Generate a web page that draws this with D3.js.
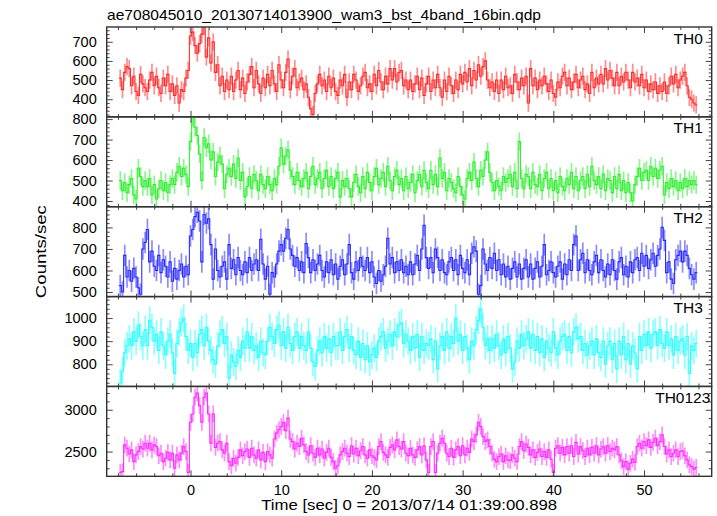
<!DOCTYPE html>
<html>
<head>
<meta charset="utf-8">
<script src="https://cdn.jsdelivr.net/npm/d3@7"></script>
<style>
html,body{margin:0;padding:0;background:#fff;}
svg{display:block;font-family:"Liberation Sans",Arial,sans-serif;}
</style>
</head>
<body>
<svg id="chart" width="717" height="516"></svg>
<script>
// ---------- data ----------
const titleText = "ae708045010_20130714013900_wam3_bst_4band_16bin.qdp";
const xLabelText = "Time [sec] 0 = 2013/07/14 01:39:00.898";
const yLabelText = "Counts/sec";
const panelNames = ["TH0", "TH1", "TH2", "TH3", "TH0123"];
const binStart = -7.75;   // centre of first 0.25 s bin
const binWidth = 0.25;

const th0 = [
510,450,540,570, 560,470,520,440, 420,530,480,460, 440,500,540,470,
520,460,430,510, 470,530,440,480, 420,470,380,450, 440,510,550,730,
750,680,640,690, 740,780,620,720, 590,700,540,580, 470,520,440,500,
450,520,440,500, 550,450,510,430, 490,530,570,460, 550,480,430,510,
460,530,470,550, 480,440,580,500, 460,540,610,450, 520,560,460,490,
510,450,480,410, 350,320,430,480, 530,470,500,440, 520,460,510,440,
420,500,470,530, 410,490,450,530, 500,440,470,520, 540,460,480,440,
530,470,550,490, 450,520,480,560, 500,560,490,540, 550,470,500,450,
500,440,480,520, 450,510,420,480, 520,440,500,460, 530,460,410,500,
440,520,470,430, 500,450,530,480, 540,490,560,470, 550,500,580,520,
570,600,500,460, 490,440,500,430, 500,450,520,460, 470,430,530,490,
450,510,470,520, 380,560,470,510, 450,500,470,520, 480,440,500,430,
410,490,460,520, 540,470,510,450, 490,530,460,500, 520,450,480,430,
540,460,510,480, 530,480,560,500, 550,510,470,540, 470,520,490,540,
500,460,540,490, 510,470,530,460, 500,440,480,450, 490,430,470,440,
490,430,470,520, 480,530,460,500, 520,540,470,410, 400,380,370
];
const th1 = [
500,450,490,440, 480,510,430,410, 560,520,470,500, 470,510,430,480,
410,460,500,450, 490,440,480,510, 480,540,570,520, 560,530,470,690,
810,760,720,630, 500,710,660,680, 600,640,520,590, 620,580,460,530,
560,520,580,510, 610,500,540,420, 470,520,460,530, 500,450,530,480,
460,520,480,450, 510,480,570,660, 580,620,650,550, 520,480,540,500,
470,510,540,460, 520,570,480,510, 540,460,510,550, 470,520,460,510,
540,420,500,470, 510,460,420,490, 530,470,440,520, 460,540,490,450,
520,560,480,510, 540,470,570,500, 450,520,550,480, 510,450,520,460,
490,530,440,500, 530,470,550,490, 460,550,480,530, 470,610,510,540,
450,510,490,460, 440,520,470,430, 410,510,540,500, 590,510,470,550,
520,600,640,540, 490,450,500,470, 450,520,490,510, 530,470,540,460,
690,510,460,530, 520,460,540,480, 470,530,450,510, 540,460,510,450,
500,440,520,470, 450,510,480,540, 460,520,450,500, 520,460,530,470,
570,500,480,520, 460,530,450,510, 500,440,520,460, 530,450,500,440,
490,440,400,480, 520,560,500,540, 550,500,570,520, 560,510,550,570,
430,490,460,510, 470,500,450,490, 460,510,470,500, 480,500,480
];
const th2 = [
530,500,670,570, 600,550,610,570, 520,490,700,730, 790,640,690,620,
600,670,590,650, 620,570,640,550, 610,560,600,630, 570,620,580,760,
790,850,870,830, 640,860,820,840, 720,560,700,600, 570,620,640,560,
720,610,650,580, 660,600,580,640, 590,660,600,630, 650,600,745,630,
560,620,490,590, 570,630,690,720, 690,750,790,700, 670,620,660,600,
640,590,725,660, 590,650,600,630, 670,600,570,640, 590,650,580,630,
560,620,650,580, 630,720,590,560, 640,600,660,620, 600,660,590,640,
570,540,600,550, 580,620,750,630, 660,590,640,600, 650,590,620,580,
640,580,630,670, 600,700,810,660, 610,660,590,700, 660,600,650,590,
580,640,660,600, 650,580,670,610, 590,650,580,680, 710,690,490,530,
700,630,600,660, 610,680,600,650, 580,630,570,620, 560,610,640,570,
630,560,610,650, 570,630,560,610, 640,570,620,720, 580,600,640,590,
570,620,640,560, 630,580,650,600, 720,760,600,650, 680,590,650,600,
580,640,670,590, 650,600,570,630, 580,650,600,560, 640,660,580,620,
570,640,590,650, 660,600,680,620, 670,610,650,680, 620,670,700,800,
740,590,640,560, 540,650,670,690, 640,690,670,610, 580,560,590
];
const th3 = [
720,770,850,880, 910,880,940,900, 970,920,880,950, 880,990,960,900,
930,860,940,880, 840,900,930,850, 760,890,940,980, 1000,920,860,890,
830,890,850,930, 950,880,960,900, 860,820,800,880, 930,950,890,920,
740,840,810,790, 860,830,900,870, 940,870,920,860, 880,830,900,850,
840,900,960,920, 890,950,970,880, 940,870,960,890, 860,920,940,870,
920,880,860,940, 870,810,790,860, 900,850,920,870, 910,850,920,880,
880,940,860,920, 950,870,920,860, 840,900,830,890, 820,880,810,840,
870,830,900,920, 940,870,900,930, 880,940,920,970, 980,890,930,900,
860,920,870,930, 830,920,860,890, 880,910,820,900, 780,880,920,860,
940,870,920,890, 1000,900,930,860, 920,870,820,900, 880,950,990,1040,
960,880,910,860, 910,870,930,880, 840,910,850,920, 870,780,810,900,
870,930,880,910, 940,870,930,860, 920,850,910,830, 900,870,850,940,
870,840,900,920, 930,860,920,850, 940,960,910,920, 860,890,840,880,
900,840,910,850, 830,900,800,880, 900,820,890,780, 900,840,920,820,
890,800,880,850, 780,920,860,930, 880,940,870,930, 940,880,950,890,
870,940,880,910, 840,920,860,900, 910,840,920,760, 880,860,890
];
const th0123 = [
2250,2260,2580,2540, 2470,2520,2380,2460, 2500,2560,2530,2600, 2540,2600,2520,2580,
2560,2450,2480,2380, 2420,2490,2400,2480, 2300,2460,2400,2480, 2560,2500,2250,2850,
2950,3150,3200,3050, 2850,3150,3200,2950, 2600,2950,2550,2600, 2620,2520,2480,2600,
2380,2330,2420,2360, 2430,2520,2450,2500, 2530,2430,2540,2460, 2420,2520,2400,2490,
2380,2500,2460,2420, 2650,2720,2760,2800, 2850,2750,2900,2650, 2620,2530,2600,2560,
2660,2580,2500,2460, 2570,2480,2430,2540, 2460,2530,2420,2490, 2540,2430,2380,2300,
2330,2460,2500,2540, 2480,2440,2570,2470, 2540,2450,2510,2560, 2460,2420,2520,2450,
2430,2400,2560,2620, 2490,2460,2430,2550, 2580,2520,2640,2560, 2530,2620,2480,2450,
2540,2460,2430,2520, 2560,2460,2570,2400, 2250,2560,2620,2250, 2480,2600,2660,2600,
2480,2440,2540,2430, 2520,2560,2450,2570, 2460,2540,2490,2650, 2620,2700,2850,2800,
2680,2620,2640,2560, 2480,2410,2380,2440, 2470,2380,2450,2400, 2390,2460,2420,2380,
2560,2620,2510,2590, 2550,2460,2520,2430, 2490,2530,2440,2500, 2430,2520,2410,2250,
2540,2570,2480,2550, 2460,2560,2480,2570, 2440,2610,2470,2560, 2510,2440,2540,2460,
2550,2480,2570,2460, 2530,2560,2480,2570, 2500,2540,2520,2560, 2460,2390,2320,2380,
2290,2360,2410,2370, 2560,2600,2540,2620, 2570,2640,2550,2610, 2660,2570,2620,2700,
2560,2470,2520,2440, 2480,2520,2440,2500, 2510,2450,2400,2340, 2320,2290,2310
];
const seriesValues = [th0, th1, th2, th3, th0123];
const seriesErrors = [45, 45, 50, 60, 100];          // typical 1-sigma half length
const seriesColors = ["#ff1a1a", "#1aee1a", "#1a1aff", "#1affff", "#ff1aff"];
const yDomains = [[308, 777], [372, 811], [479, 896], [704, 1093], [2204, 3279]];
const yTicks = [[400,500,600,700], [400,500,600,700,800], [500,600,700,800], [800,900,1000], [2500,3000]];
const yMinorStep = [20, 20, 20, 20, 100];
const xDomain = [-9.24, 57.46];
const xTicks = [0, 10, 20, 30, 40, 50];
const xMinorStep = 2;

// ---------- layout ----------
const plotL = 106.7, plotR = 711.7, plotT = 27, plotB = 476.3;
const nP = panelNames.length;
const pH = (plotB - plotT) / nP;

const svg = d3.select("#chart");
const x = d3.scaleLinear().domain(xDomain).range([plotL, plotR]);

const xMinor = d3.range(Math.ceil(xDomain[0] / xMinorStep) * xMinorStep, xDomain[1], xMinorStep)
  .filter(v => !xTicks.includes(v));

function styleAxis(g) {
  g.select(".domain").remove();
  g.selectAll(".tick line").attr("stroke", "#444").attr("stroke-width", 1);
  g.selectAll("text").attr("fill", "#000").attr("font-family", "Liberation Sans, Arial, sans-serif");
}

panelNames.forEach((name, i) => {
  const y0 = plotT + i * pH, y1 = y0 + pH;
  const y = d3.scaleLinear().domain(yDomains[i]).range([y1, y0]);
  const vals = seriesValues[i];
  const err = seriesErrors[i];
  const col = seriesColors[i];
  const times = vals.map((v, k) => binStart + k * binWidth);

  const clipId = "clip" + i;
  svg.append("clipPath").attr("id", clipId)
    .append("rect").attr("x", plotL).attr("y", y0).attr("width", plotR - plotL).attr("height", pH);

  const g = svg.append("g").attr("clip-path", `url(#${clipId})`);
  // error bars
  g.selectAll("line.err").data(vals).join("line")
    .attr("class", "err")
    .attr("x1", (d, k) => x(times[k])).attr("x2", (d, k) => x(times[k]))
    .attr("y1", d => y(d - err)).attr("y2", d => y(d + err))
    .attr("stroke", col).attr("stroke-width", 1.7).attr("stroke-opacity", 0.5);
  // step line
  const stepPts = [];
  vals.forEach((v, k) => {
    stepPts.push([times[k] - binWidth / 2, v]);
    stepPts.push([times[k] + binWidth / 2, v]);
  });
  g.append("path")
    .attr("d", d3.line().x(d => x(d[0])).y(d => y(d[1]))(stepPts))
    .attr("fill", "none").attr("stroke", col).attr("stroke-width", 1.1).attr("stroke-opacity", 0.9);

  const yMin = d3.range(Math.ceil(yDomains[i][0] / yMinorStep[i]) * yMinorStep[i], yDomains[i][1], yMinorStep[i])
    .filter(v => !yTicks[i].includes(v));
  // left axis
  svg.append("g").attr("transform", `translate(${plotL},0)`)
    .call(d3.axisLeft(y).tickValues(yTicks[i]).tickFormat(d3.format("d"))
      .tickSizeInner(-6).tickSizeOuter(0).tickPadding(10))
    .call(styleAxis).call(g2 => g2.selectAll("text").attr("font-size", 14.5));
  svg.append("g").attr("transform", `translate(${plotL},0)`)
    .call(d3.axisLeft(y).tickValues(yMin).tickSizeInner(-3).tickSizeOuter(0).tickFormat(""))
    .call(styleAxis);
  // right axis
  svg.append("g").attr("transform", `translate(${plotR},0)`)
    .call(d3.axisRight(y).tickValues(yTicks[i]).tickSizeInner(-6).tickSizeOuter(0).tickFormat(""))
    .call(styleAxis);
  svg.append("g").attr("transform", `translate(${plotR},0)`)
    .call(d3.axisRight(y).tickValues(yMin).tickSizeInner(-3).tickSizeOuter(0).tickFormat(""))
    .call(styleAxis);
  // top x axis
  svg.append("g").attr("transform", `translate(0,${y0})`)
    .call(d3.axisTop(x).tickValues(xTicks).tickSizeInner(-6).tickSizeOuter(0).tickFormat(""))
    .call(styleAxis);
  svg.append("g").attr("transform", `translate(0,${y0})`)
    .call(d3.axisTop(x).tickValues(xMinor).tickSizeInner(-3).tickSizeOuter(0).tickFormat(""))
    .call(styleAxis);
  // bottom x axis
  const bx = svg.append("g").attr("transform", `translate(0,${y1})`)
    .call(d3.axisBottom(x).tickValues(xTicks).tickSizeInner(-6).tickSizeOuter(0).tickPadding(8)
      .tickFormat(i === nP - 1 ? d3.format("d") : ""))
    .call(styleAxis);
  bx.selectAll("text").attr("font-size", 14.5);
  svg.append("g").attr("transform", `translate(0,${y1})`)
    .call(d3.axisBottom(x).tickValues(xMinor).tickSizeInner(-3).tickSizeOuter(0).tickFormat(""))
    .call(styleAxis);

  // frame
  svg.append("rect").attr("x", plotL).attr("y", y0).attr("width", plotR - plotL).attr("height", pH)
    .attr("fill", "none").attr("stroke", "#333").attr("stroke-width", 1.4);

  // panel label
  const lab = svg.append("text").attr("y", y0 + 16.5).attr("font-size", 15.5).attr("fill", "#000")
    .text(name);
  const w = lab.node().getComputedTextLength();
  lab.attr("x", 694.4 - 0.711 * w);
});

// title
svg.append("text").attr("x", 107).attr("y", 20).attr("font-size", 14.5)
  .attr("textLength", 434).attr("lengthAdjust", "spacingAndGlyphs").text(titleText);
// x label
svg.append("text").attr("x", (plotL + plotR) / 2).attr("y", 510).attr("font-size", 14.5)
  .attr("text-anchor", "middle").attr("textLength", 296).attr("lengthAdjust", "spacingAndGlyphs")
  .text(xLabelText);
// y label
svg.append("text").attr("transform", `translate(46,${(plotT + plotB) / 2}) rotate(-90)`)
  .attr("font-size", 14.5).attr("text-anchor", "middle")
  .attr("textLength", 93).attr("lengthAdjust", "spacingAndGlyphs").text(yLabelText);
</script>
</body>
</html>
